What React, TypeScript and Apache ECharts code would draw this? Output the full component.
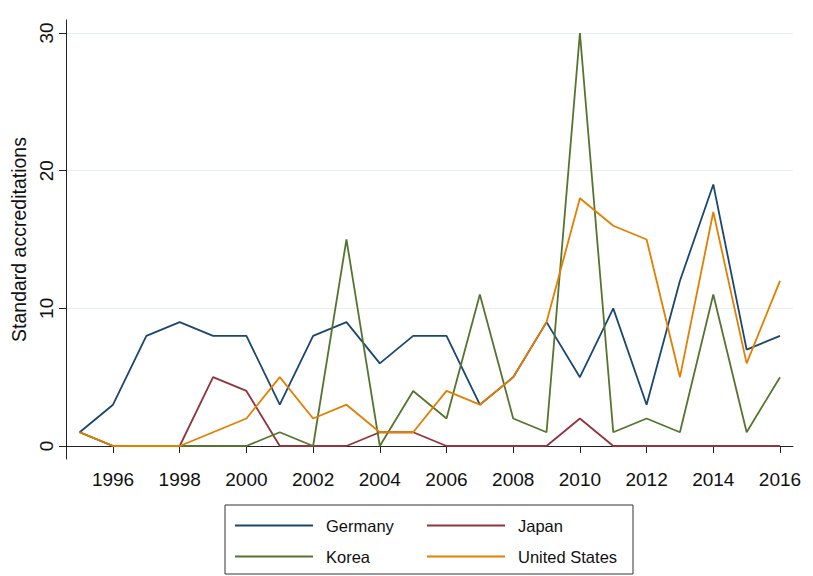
import React, { useEffect, useRef } from "react";
import * as echarts from "echarts";

const years = [1995, 1996, 1997, 1998, 1999, 2000, 2001, 2002, 2003, 2004, 2005, 2006, 2007, 2008, 2009, 2010, 2011, 2012, 2013, 2014, 2015, 2016];
const germany = [1, 3, 8, 9, 8, 8, 3, 8, 9, 6, 8, 8, 3, 5, 9, 5, 10, 3, 12, 19, 7, 8];
const japan = [1, 0, 0, 0, 5, 4, 0, 0, 0, 1, 1, 0, 0, 0, 0, 2, 0, 0, 0, 0, 0, 0];
const korea = [1, 0, 0, 0, 0, 0, 1, 0, 15, 0, 4, 2, 11, 2, 1, 30, 1, 2, 1, 11, 1, 5];
const unitedStates = [1, 0, 0, 0, 1, 2, 5, 2, 3, 1, 1, 4, 3, 5, 9, 18, 16, 15, 5, 17, 6, 12];
const xTicks = [1996, 1998, 2000, 2002, 2004, 2006, 2008, 2010, 2012, 2014, 2016];
const yTicks = [0, 10, 20, 30];
const seriesNames = ["Germany", "Japan", "Korea", "United States"];
const seriesColors = ["#1a476f", "#90353b", "#55752f", "#e37e00"];

const FONT = "Liberation Sans, Arial, Helvetica, sans-serif";

export default function App() {
  const ref = useRef<HTMLDivElement>(null);
  useEffect(() => {
    if (!ref.current) return;
    const chart = echarts.init(ref.current, undefined, { renderer: "svg" });
    const values = [germany, japan, korea, unitedStates];
    const series = seriesNames.map((name, i) => ({
      name,
      type: "line",
      data: years.map((y, j) => [y, values[i][j]]),
      symbol: "none",
      lineStyle: { color: seriesColors[i], width: 1.8 },
      itemStyle: { color: seriesColors[i] },
    }));
    const legendCommon = {
      orient: "vertical",
      top: 517,
      icon: "rect",
      itemWidth: 78,
      itemHeight: 2,
      itemGap: 14,
      padding: 0,
      textStyle: { color: "#111", fontSize: 16.5, fontFamily: FONT, padding: [0, 0, 0, 8] },
    };
    chart.setOption({
      animation: false,
      backgroundColor: "#fff",
      grid: { left: 66, right: 20, top: 20, bottom: 117 },
      xAxis: {
        type: "value",
        min: 1994.59,
        max: 2016.39,
        axisLine: { show: true, lineStyle: { color: "#222", width: 1 } },
        axisTick: { show: true, length: 7, customValues: xTicks, lineStyle: { color: "#222" } },
        axisLabel: {
          customValues: xTicks,
          formatter: (v: number) => String(v),
          color: "#111",
          fontSize: 19,
          fontFamily: FONT,
          margin: 11,
        },
        splitLine: { show: false },
      },
      yAxis: {
        type: "value",
        min: -0.944,
        max: 30.944,
        name: "Standard accreditations",
        nameLocation: "middle",
        nameGap: 36,
        nameTextStyle: { color: "#111", fontSize: 19.5, fontFamily: FONT },
        axisLine: { show: true, lineStyle: { color: "#222", width: 1 } },
        axisTick: { show: true, length: 7, customValues: yTicks, lineStyle: { color: "#222" } },
        axisLabel: { customValues: yTicks, rotate: 90, color: "#111", fontSize: 19, fontFamily: FONT, margin: 10 },
        splitLine: { show: true, lineStyle: { color: "#e6eff1", width: 1.2 } },
      },
      legend: [
        { ...legendCommon, left: 235, data: ["Germany", "Korea"] },
        { ...legendCommon, left: 427, data: ["Japan", "United States"] },
      ],
      graphic: [
        {
          type: "rect",
          shape: { x: 225, y: 505, width: 408, height: 69 },
          style: { fill: "none", stroke: "#333", lineWidth: 1 },
          z: -1,
        },
      ],
      series,
    });
    return () => chart.dispose();
  }, []);
  return <div ref={ref} style={{ position: "fixed", left: 0, top: 0, width: 813, height: 576 }} />;
}
